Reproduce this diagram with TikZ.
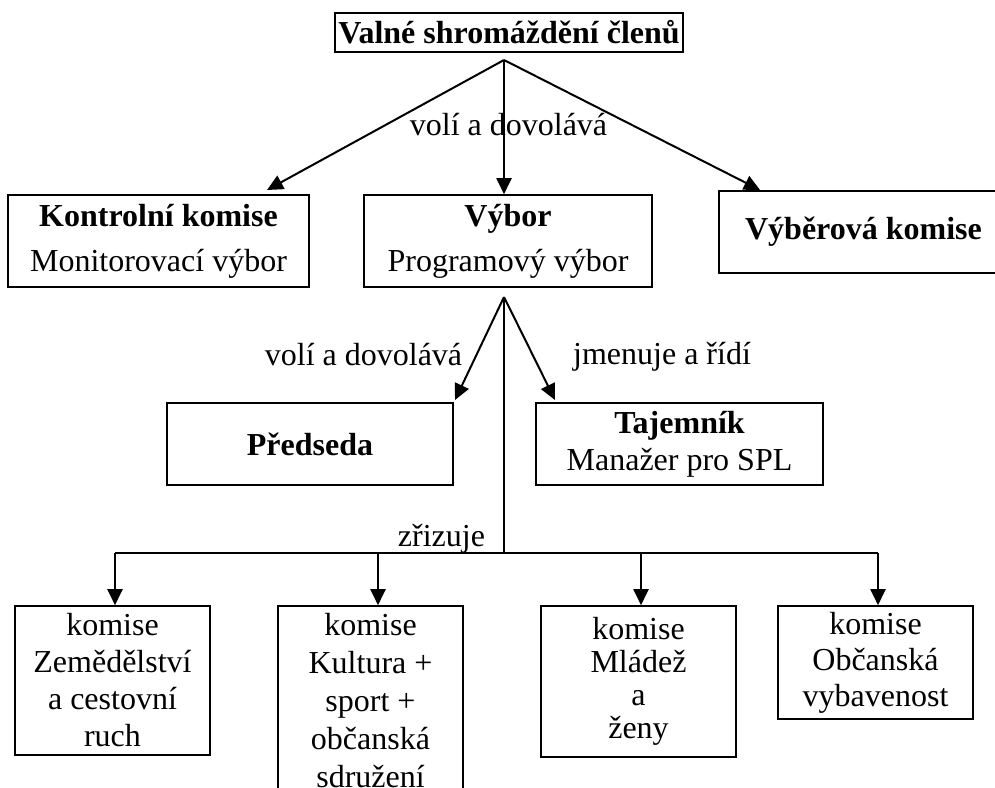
\documentclass[tikz,border=0pt]{standalone}
\usepackage{fontspec}
\setmainfont{Liberation Serif}
\usetikzlibrary{arrows.meta}

\begin{document}
\begin{tikzpicture}[x=1pt,y=-1pt,
  box/.style={draw, line width=1.6pt, inner sep=0pt, align=center, font=\fontsize{32}{37}\selectfont},
  ln/.style={line width=2pt},
  arr/.style={line width=2pt, -{Triangle[length=16pt,width=15pt]}},
  lbl/.style={anchor=base, inner sep=0pt, font=\fontsize{32}{37}\selectfont}]
\useasboundingbox (0,0) rectangle (995,787);
\clip (0,0) rectangle (995,787);

% top level
\node[box, minimum width=348pt, minimum height=39pt] (vs) at (509,32.5) {\textbf{Valné shromáždění členů}};
\node[box, minimum width=301pt, minimum height=92pt, font=\fontsize{32}{45}\selectfont] (kk) at (158.5,241) {\textbf{Kontrolní komise}\\Monitorovací výbor};
\node[box, minimum width=288pt, minimum height=92pt, font=\fontsize{32}{45}\selectfont] (vy) at (508,241) {\textbf{Výbor}\\Programový výbor};
\node[box, minimum width=289pt, minimum height=82pt] (vk) at (863.5,232) {\textbf{Výběrová komise}};

\coordinate (a1) at (504,60);
\coordinate (t1) at (267,190);
\coordinate (t3) at (760,190);
\draw[arr] (a1) -- (t1);
\draw[arr] (a1) -- (a1 |- vy.north);
\draw[arr] (a1) -- (t3);
\node[lbl] (l1) at (508.5,135) {volí a dovolává};

% second level
\node[box, minimum width=286pt, minimum height=82pt] (pr) at (310,444) {\textbf{Předseda}};
\node[box, minimum width=287pt, minimum height=82pt] (ta) at (679.5,444) {\textbf{Tajemník}\\Manažer pro SPL};

\coordinate (a2) at (504,297);
\coordinate (t4) at (455,400);
\coordinate (t5) at (555,400);
\draw[arr] (a2) -- (t4);
\draw[arr] (a2) -- (t5);
\node[lbl] (l2) at (363.5,365) {volí a dovolává};
\node[lbl] (l3) at (662,364) {jmenuje a řídí};

% third level
\node[box, minimum width=195pt, minimum height=149pt] (k1) at (112.5,680.5) {komise\\Zemědělství\\a cestovní\\ruch};
\node[box, minimum width=185pt, minimum height=190pt, font=\fontsize{32}{38}\selectfont] (k2) at (370.5,701) {komise\\Kultura +\\sport +\\občanská\\sdružení};
\node[box, minimum width=195pt, minimum height=151pt, font=\fontsize{32}{33}\selectfont] (k3) at (638.5,681.5) {komise\\Mládež\\a\\ženy};
\node[box, minimum width=195pt, minimum height=113pt, font=\fontsize{32}{36}\selectfont] (k4) at (875.5,662.5) {komise\\Občanská\\vybavenost};

\coordinate (h) at (504,553);
\coordinate (c1) at (115,553);
\coordinate (c2) at (378,553);
\coordinate (c3) at (641,553);
\coordinate (c4) at (878,553);
\draw[ln] (a2) -- (h);
\draw[ln] (c1) -- (c4);
\draw[arr] (c1) -- (c1 |- k1.north);
\draw[arr] (c2) -- (c2 |- k2.north);
\draw[arr] (c3) -- (c3 |- k3.north);
\draw[arr] (c4) -- (c4 |- k4.north);
\node[lbl] (l4) at (441.5,546) {zřizuje};
\end{tikzpicture}
\end{document}
